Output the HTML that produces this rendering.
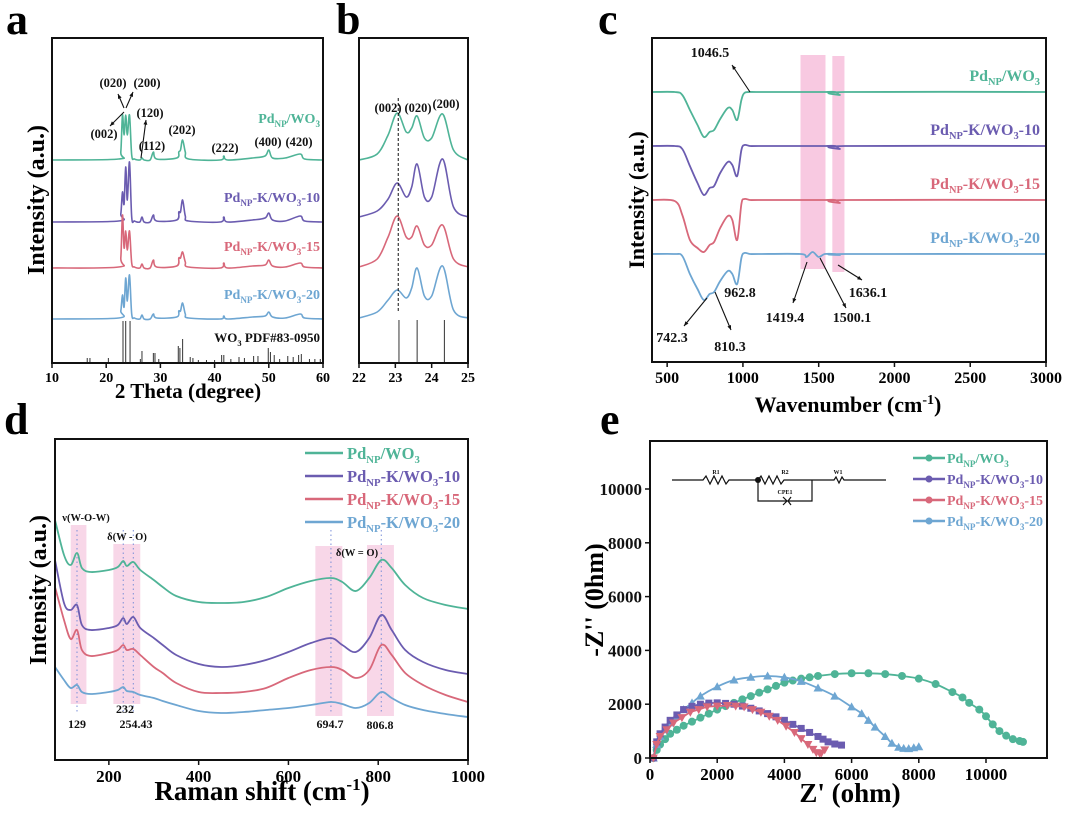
<!DOCTYPE html>
<html><head><meta charset="utf-8">
<style>
html,body{margin:0;padding:0;background:#fff;}
svg{display:block;font-family:"Liberation Serif",serif;font-weight:bold;}
</style></head>
<body>
<svg id="fig" width="1080" height="813" viewBox="0 0 1080 813">
<rect width="1080" height="813" fill="#fff"/>
<text x="6" y="34" font-size="44">a</text>
<text x="336" y="34" font-size="44">b</text>
<text x="598" y="34" font-size="44">c</text>
<text x="4" y="434" font-size="44">d</text>
<text x="600" y="434" font-size="44">e</text>
<text x="188" y="398" font-size="21" text-anchor="middle">2 Theta (degree)</text>
<text transform="translate(44,200) rotate(-90)" font-size="24" text-anchor="middle">Intensity (a.u.)</text>
<text x="848" y="412" font-size="22" text-anchor="middle">Wavenumber (cm<tspan dy="-8" font-size="14">-1</tspan><tspan dy="8">)</tspan></text>
<text transform="translate(644,200) rotate(-90)" font-size="22" text-anchor="middle">Intensity (a.u.)</text>
<text x="262" y="800" font-size="27" text-anchor="middle">Raman shift (cm<tspan dy="-10" font-size="17">-1</tspan><tspan dy="10">)</tspan></text>
<text transform="translate(46,590) rotate(-90)" font-size="24" text-anchor="middle">Intensity (a.u.)</text>
<text x="850" y="802" font-size="27" text-anchor="middle">Z' (ohm)</text>
<text transform="translate(603,600) rotate(-90)" font-size="26" text-anchor="middle">-Z'' (0hm)</text>
</svg>
<script>
const NS='http://www.w3.org/2000/svg';
const svg=document.getElementById('fig');
const C={g:'#4fb497',p:'#6b5cb0',r:'#d8687a',b:'#6ea6d2'};
// ---------- panel a data ----------
const aX=[10,22.3,22.7,23.0,23.3,23.6,23.9,24.3,24.7,25.2,26.2,26.6,27,28.1,28.7,29.3,33,33.4,33.7,34.1,34.6,35.2,41,41.7,42.4,47,49.3,50,50.7,53,55.8,56.6,60];
const aGreen=[0,1,8,45,25,45,25,45,5,1,0,2,0,0,8,1,2,8,10,20,8,1,0,4,0,2,4,10,2,2,6,1,0];
const aPurple=[0,1,8,30,18,55,22,60,5,1,0,5,0,0,7,1,2,10,10,22,6,1,0,5,0,2,4,9,2,1,6,1,0];
const aRed=[0,1,10,53,20,37,18,37,5,1,0,4,0,0,8,1,2,10,10,16,6,1,0,5,0,2,3,8,2,1,5,1,0];
const aBlue=[0,1,8,24,12,41,18,44,5,1,0,4,0,0,5,1,2,8,8,16,5,1,0,3,0,2,3,7,2,1,5,1,0];
const aOffsets=[203,141,95,44];
const aTicks=[10,20,30,40,50,60];
const pdfPos=[16.5,17,20.4,23.1,23.6,24.4,26.3,26.6,28.7,29,29.7,33.3,33.6,34.1,35.5,36,37,38.5,40,41.3,41.7,43,44.5,45.5,47.2,48,49.9,50.3,51,52,53.5,54.5,55.5,56,57.5,58.5,59.5];
const pdfInt=[5,5,5,42,42,42,4,12,10,10,4,17,15,24,6,5,3,3,3,8,8,4,6,5,7,7,15,11,8,4,7,6,8,9,4,4,4];
// ---------- panel b data ----------
const bX=[22,22.5,22.8,23.05,23.3,23.45,23.6,23.8,24.0,24.3,24.6,25];
const bGreen=[0,6,25,47,28,32,44,22,22,46,10,0];
const bPurple=[0,6,18,34,20,30,53,20,20,58,10,0];
const bRed=[0,8,30,51,30,30,41,22,22,42,8,0];
const bBlue=[0,6,18,28,20,30,50,22,22,52,8,0];
const bOffsets=[203,146,96,45];
const bTicks=[22,23,24,25];
const bSticks=[23.1,23.6,24.35];
// ---------- panel c data ----------
const cX=[400,550,600,650,700,742,780,810,850,900,930,962,990,1010,1046,1100,1380,1419,1460,1500,1540,1610,1640,1670,3000];
const cGreen=[0,0,-3,-18,-33,-45,-40,-38,-27,-16,-18,-28,-8,-1,0,0,0,0,0,0,0,0,-3,0,0];
const cPurple=[0,0,-3,-20,-37,-49,-42,-40,-27,-16,-19,-30,-4,1,0,0,0,0,0,0,0,0,-3,0,0];
const cRed=[0,-1,-15,-40,-48,-52,-45,-42,-28,-16,-20,-40,-4,1,0,0,0,0,0,0,0,0,-3,0,0];
const cBlue=[0,0,-2,-20,-35,-46,-40,-38,-27,-17,-20,-30,-4,1,0,0,0,-3,2,-3,0,0,-1,0,0];
const cOffsets=[270,216,162,108];
const cTicks=[500,1000,1500,2000,2500,3000];
// ---------- panel d data ----------
const dX=[80,100,115,129,140,160,200,220,232,240,254.4,270,300,320,350,400,450,500,550,600,650,694.7,720,750,780,806.8,830,860,900,950,1000];
const dGreen=[240,205,195,207,192,188,190,193,199,194,198,190,180,173,164,158,157,158,163,172,179,182,178,169,182,200,192,175,162,155,151];
const dPurple=[200,157,150,155,135,130,132,135,142,136,143,132,122,115,105,96,93,95,100,108,117,122,115,108,122,145,130,110,98,90,86];
const dRed=[173,140,121,130,110,104,107,110,115,110,111,105,93,87,77,68,67,68,72,82,90,93,90,82,90,115,105,87,75,65,58];
const dBlue=[93,80,72,75,68,66,68,70,73,69,68,65,62,59,55,49,47,48,50,52,55,58,56,52,57,68,62,55,50,46,43];
const dTicks=[200,400,600,800,1000];
const dPeaks=[129,232,254.43,694.7,806.8];
// ---------- panel e data ----------
const eGreenX=[100,200,300,450,600,800,1000,1250,1500,1750,2000,2250,2500,2750,3000,3250,3500,3750,4000,4250,4500,4750,5000,5500,6000,6500,7000,7500,8000,8500,9000,9300,9500,9800,10000,10200,10400,10600,10800,11000,11100];
const eGreenY=[0,300,500,700,900,1050,1200,1350,1500,1650,1800,1930,2050,2180,2300,2430,2550,2680,2800,2880,2950,3000,3050,3120,3150,3150,3120,3050,2950,2750,2450,2250,2050,1800,1550,1250,1000,830,700,630,600];
const eBlueX=[100,200,300,450,600,800,1000,1250,1500,2000,2500,3000,3500,4000,4500,5000,5500,6000,6300,6500,6700,7000,7200,7400,7550,7700,7850,8000];
const eBlueY=[0,500,800,1050,1300,1550,1800,2050,2300,2650,2900,3000,3050,3000,2850,2600,2300,1900,1650,1400,1150,800,550,400,360,350,380,420];
const ePurpleX=[100,200,300,450,600,800,1000,1250,1500,1750,2000,2250,2500,2750,3000,3250,3500,3750,4000,4250,4500,4750,5000,5150,5300,5500,5700];
const ePurpleY=[0,600,900,1150,1400,1600,1800,1920,2000,2040,2050,2030,2000,1930,1850,1750,1650,1530,1400,1250,1100,950,800,700,600,520,480];
const eRedX=[100,200,300,500,700,950,1200,1450,1700,2000,2300,2550,2800,3050,3300,3550,3800,4050,4300,4500,4700,4850,4950,5050,5100,5200];
const eRedY=[0,500,800,1050,1300,1500,1700,1800,1900,1930,1950,1930,1900,1800,1700,1550,1400,1180,950,720,500,320,200,170,180,300];
const eXTicks=[0,2000,4000,6000,8000,10000];
const eYTicks=[0,2000,4000,6000,8000,10000];

function mk(tag,attrs){const e=document.createElementNS(NS,tag);for(const k in attrs)e.setAttribute(k,attrs[k]);svg.appendChild(e);return e;}
function smooth(pts){let d='M'+pts[0][0].toFixed(1)+','+pts[0][1].toFixed(1);
 for(let i=0;i<pts.length-1;i++){const p0=pts[Math.max(0,i-1)],p1=pts[i],p2=pts[i+1],p3=pts[Math.min(pts.length-1,i+2)];
 const c1=[p1[0]+(p2[0]-p0[0])/6,p1[1]+(p2[1]-p0[1])/6],c2=[p2[0]-(p3[0]-p1[0])/6,p2[1]-(p3[1]-p1[1])/6];
 d+='C'+c1[0].toFixed(1)+','+c1[1].toFixed(1)+' '+c2[0].toFixed(1)+','+c2[1].toFixed(1)+' '+p2[0].toFixed(1)+','+p2[1].toFixed(1);}return d;}
function frame(x0,y0,x1,y1,name){const r=mk('rect',{x:x0,y:y0,width:x1-x0,height:y1-y0,fill:'none',stroke:'#111','stroke-width':2});
 
 }
function xticks(ticks,fx,y,fs,name){ticks.forEach(t=>{const l=mk('line',{x1:fx(t),x2:fx(t),y1:y,y2:y+5,stroke:'#111','stroke-width':1.5});
 
 
 const tx=mk('text',{x:fx(t),y:y+fs+5,'font-size':fs,'text-anchor':'middle'});tx.textContent=t;
 
 });}
function series(xs,vs,fx,fy,off,color,name,w){const pts=xs.map((x,i)=>[fx(x),fy(vs[i]+off)]);
 const p=mk('path',{d:smooth(pts),fill:'none',stroke:color,'stroke-width':w||1.8,'stroke-linejoin':'round'});
 
 return p;}
function txt(x,y,s,fs,color,anchor,name){const t=mk('text',{x:x,y:y,'font-size':fs,fill:color||'#111','text-anchor':anchor||'start'});t.innerHTML=s;
 
 return t;}
function arrow(x1,y1,x2,y2,name){const l=mk('line',{x1:x1,y1:y1,x2:x2,y2:y2,stroke:'#111','stroke-width':1.1});
 
 
 const a=Math.atan2(y2-y1,x2-x1),s=5;
 const h=mk('polygon',{points:`${x2},${y2} ${x2-s*Math.cos(a-0.4)},${y2-s*Math.sin(a-0.4)} ${x2-s*Math.cos(a+0.4)},${y2-s*Math.sin(a+0.4)}`,fill:'#111'});
 
 }
const lblG='Pd<tspan font-size="0.65em" dy="4">NP</tspan><tspan dy="-4">/WO</tspan><tspan font-size="0.65em" dy="4">3</tspan>';
const lblK=n=>`Pd<tspan font-size="0.65em" dy="4">NP</tspan><tspan dy="-4">-K/WO</tspan><tspan font-size="0.65em" dy="4">3</tspan><tspan dy="-4">-${n}</tspan>`;

// ===== Panel a =====
const xa=v=>52+(v-10)*271/50, ya=v=>363-v;
[[aGreen,C.g,0],[aPurple,C.p,1],[aRed,C.r,2],[aBlue,C.b,3]].forEach(([d,c,i])=>series(aX,d,xa,ya,aOffsets[i],c,'xrd-curve-'+i,1.6));
pdfPos.forEach((p,i)=>{const l=mk('line',{x1:xa(p),x2:xa(p),y1:363,y2:ya(pdfInt[i]),stroke:'#333','stroke-width':1});
 
 });
frame(52,38,323,363,'plot-frame-a');
xticks(aTicks,xa,363,14,'x-axis-a');
txt(320,123,lblG,14,C.g,'end','series-label-a-green');
txt(320,202,lblK(10),14,C.p,'end','series-label-a-purple');
txt(320,251,lblK(15),14,C.r,'end','series-label-a-red');
txt(320,299,lblK(20),14,C.b,'end','series-label-a-blue');
txt(320,342,'WO<tspan font-size="0.65em" dy="4">3</tspan><tspan dy="-4"> PDF#83-0950</tspan>',13,'#111','end','pdf-label');
[['(002)',104,138],['(020)',113,87],['(200)',147,87],['(120)',150,117],['(112)',152,150],['(202)',182,134],['(222)',225,152],['(400)',268,146],['(420)',299,146]].forEach(a=>txt(a[1],a[2],a[0],12.5,'#111','middle','peak-label-a'));
arrow(124,112,110,126,'arrow-002');arrow(124,108,118,94,'arrow-020');arrow(126,108,133,92,'arrow-200');arrow(141,158,146,120,'arrow-120');

// ===== Panel b =====
const xb=v=>359+(v-22)*109/3, yb=v=>363-v;
[[bGreen,C.g,0],[bPurple,C.p,1],[bRed,C.r,2],[bBlue,C.b,3]].forEach(([d,c,i])=>series(bX,d,xb,yb,bOffsets[i],c,'xrd-zoom-curve-'+i,1.6));
bSticks.forEach(s=>{const l=mk('line',{x1:xb(s),x2:xb(s),y1:363,y2:320,stroke:'#333','stroke-width':1});
 
 });
const dl=mk('line',{x1:xb(23.08),x2:xb(23.08),y1:98,y2:312,stroke:'#111','stroke-width':1,'stroke-dasharray':'3,2'});


frame(359,38,468,363,'plot-frame-b');
xticks(bTicks,xb,363,14,'x-axis-b');
txt(388,112,'(002)',12.5,'#111','middle','peak-label-b');txt(418,112,'(020)',12.5,'#111','middle','peak-label-b');txt(446,108,'(200)',12.5,'#111','middle','peak-label-b');

// ===== Panel c =====
const xc=v=>652+(v-400)*394/2600, yc=v=>362-v;
const band1=mk('rect',{x:xc(1380),y:55,width:xc(1545)-xc(1380),height:214,fill:'#f7bfdc',opacity:0.85});


const band2=mk('rect',{x:xc(1590),y:56,width:xc(1670)-xc(1590),height:216,fill:'#f7bfdc',opacity:0.85});


[[cGreen,C.g,0],[cPurple,C.p,1],[cRed,C.r,2],[cBlue,C.b,3]].forEach(([d,c,i])=>series(cX,d,xc,yc,cOffsets[i],c,'ftir-curve-'+i,1.8));
frame(652,38,1046,362,'plot-frame-c');
xticks(cTicks,xc,362,16,'x-axis-c');
txt(1040,81,lblG,16,C.g,'end','series-label-c-green');
txt(1040,135,lblK(10),16,C.p,'end','series-label-c-purple');
txt(1040,189,lblK(15),16,C.r,'end','series-label-c-red');
txt(1040,243,lblK(20),16,C.b,'end','series-label-c-blue');
txt(710,57,'1046.5',14,'#111','middle','annot-1046');arrow(750,92,732,65,'arrow-1046');
txt(740,297,'962.8',14,'#111','middle','annot-962');
txt(672,342,'742.3',14,'#111','middle','annot-742');arrow(707,298,684,326,'arrow-742');
txt(730,351,'810.3',14,'#111','middle','annot-810');arrow(715,292,731,330,'arrow-810');
txt(785,322,'1419.4',14,'#111','middle','annot-1419');arrow(807,262,793,303,'arrow-1419');
txt(852,322,'1500.1',14,'#111','middle','annot-1500');arrow(820,258,846,308,'arrow-1500');
txt(868,297,'1636.1',14,'#111','middle','annot-1636');arrow(838,265,862,280,'arrow-1636');

// ===== Panel d =====
const xd=v=>55+(v-80)*413/920, yd=v=>760-v;
[[115,150,525,704],[210,270,544,704],[660,720,546,716],[775,835,545,716]].forEach(b=>{const r=mk('rect',{x:xd(b[0]),y:b[2],width:xd(b[1])-xd(b[0]),height:b[3]-b[2],fill:'#f7d3e6',opacity:0.9});
 
 });
dPeaks.forEach(p=>{const l=mk('line',{x1:xd(p),x2:xd(p),y1:530,y2:712,stroke:'#7a8fd8','stroke-width':1,'stroke-dasharray':'1.5,3'});
 
 });
[[dGreen,C.g,0],[dPurple,C.p,1],[dRed,C.r,2],[dBlue,C.b,3]].forEach(([d,c,i])=>series(dX,d,xd,yd,0,c,'raman-curve-'+i,1.8));
frame(55,439,468,760,'plot-frame-d');
xticks(dTicks,xd,760,17,'x-axis-d');
[[C.g,lblG,459],[C.p,lblK(10),482],[C.r,lblK(15),505],[C.b,lblK(20),528]].forEach(l=>{
 const ln=mk('line',{x1:305,x2:343,y1:l[2]-6,y2:l[2]-6,stroke:l[0],'stroke-width':2.5});
 
 
 txt(347,l[2],l[1],16.5,l[0],'start','legend-entry-d');});
txt(86,521,'ν(W-O-W)',10.5,'#111','middle','annot-wow');
txt(127,540,'δ(W - O)',10.5,'#111','middle','annot-wo');
txt(357,556,'δ(W = O)',10.5,'#111','middle','annot-w=o');
txt(77,728,'129',12,'#111','middle','annot-129');
txt(125,713,'232',12,'#111','middle','annot-232');
txt(136,728,'254.43',12,'#111','middle','annot-254');
txt(330,728,'694.7',12,'#111','middle','annot-694');
txt(380,729,'806.8',12,'#111','middle','annot-806');

// ===== Panel e =====
const xe=v=>650+v*336/10000, ye=v=>758-v*269/10000;
function eSeries(X,Y,color,marker,name){const pts=X.map((x,i)=>[xe(x),ye(Y[i])]);
 const p=mk('path',{d:smooth(pts),fill:'none',stroke:color,'stroke-width':1.8});
 
 
 pts.forEach(q=>{let m;
  if(marker==='c')m=mk('circle',{cx:q[0],cy:q[1],r:4,fill:color});
  else if(marker==='s')m=mk('rect',{x:q[0]-3.5,y:q[1]-3.5,width:7,height:7,fill:color});
  else if(marker==='v')m=mk('polygon',{points:`${q[0]-4.5},${q[1]-3.5} ${q[0]+4.5},${q[1]-3.5} ${q[0]},${q[1]+4.5}`,fill:color});
  else m=mk('polygon',{points:`${q[0]-4.5},${q[1]+3.5} ${q[0]+4.5},${q[1]+3.5} ${q[0]},${q[1]-4.5}`,fill:color});
  
  });}
eSeries(eGreenX,eGreenY,C.g,'c','eis-green');
eSeries(eBlueX,eBlueY,C.b,'t','eis-blue');
eSeries(ePurpleX,ePurpleY,C.p,'s','eis-purple');
eSeries(eRedX,eRedY,C.r,'v','eis-red');
frame(650,441,1047,758,'plot-frame-e');
xticks(eXTicks,xe,758,17,'x-axis-e');
eYTicks.forEach(t=>{const l=mk('line',{x1:645,x2:650,y1:ye(t),y2:ye(t),stroke:'#111','stroke-width':1.5});
 
 
 txt(642,ye(t)+6,t,17,'#111','end','y-axis-e-tick-label');});
[[C.g,lblG,463,'c'],[C.p,lblK(10),484,'s'],[C.r,lblK(15),505,'v'],[C.b,lblK(20),526,'t']].forEach(l=>{
 const ln=mk('line',{x1:913,x2:945,y1:l[2]-5,y2:l[2]-5,stroke:l[0],'stroke-width':2.5});
 
 
 const mkr=mk('circle',{cx:929,cy:l[2]-5,r:3.5,fill:l[0]});
 
 
 txt(947,l[2],l[1],14,l[0],'start','legend-entry-e');});
const cir=mk('path',{d:'M672,480 H703 l3,-4 l4,8 l4,-8 l4,8 l4,-8 l4,8 l3,-4 H758 l3,-4 l4,8 l4,-8 l4,8 l4,-8 l4,8 l3,-4 H834 l2,-3 l3,6 l3,-6 l2,3 H886 M758,480 V501 H812 V480 M775,501 h12 m-4,-4 l4,4 l-4,4 m8,-8 l-3,4 l3,4',fill:'none',stroke:'#111','stroke-width':1.2});


const dot=mk('circle',{cx:758,cy:480,r:3,fill:'#111'});


txt(716,474,'R1',6,'#111','middle','circuit-r1');txt(785,474,'R2',6,'#111','middle','circuit-r2');
txt(838,474,'W1',6,'#111','middle','circuit-w1');txt(785,494,'CPE1',6,'#111','middle','circuit-cpe1');
</script>
</body></html>
